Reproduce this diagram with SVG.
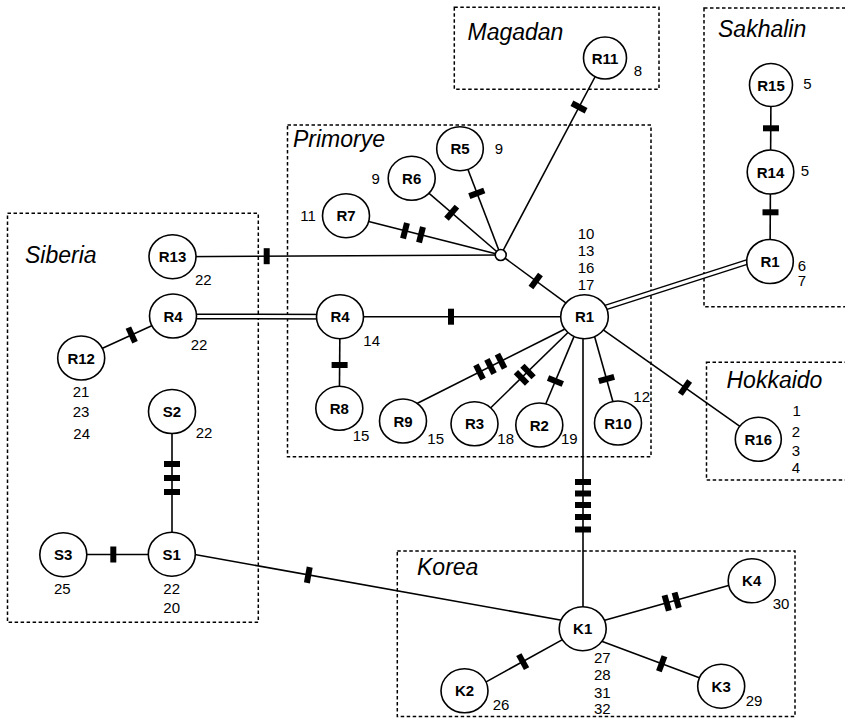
<svg xmlns="http://www.w3.org/2000/svg" xmlns:xlink="http://www.w3.org/1999/xlink" width="845" height="718" viewBox="0 0 845 718">
<style>
.box{fill:none;stroke:#000;stroke-width:1.5;stroke-dasharray:3.5 2.5}
.region{font-family:"Liberation Sans",Arial,sans-serif;font-style:italic;font-size:23px;fill:#000}
.edge{stroke:#000;stroke-width:1.6;fill:none}
.dblo{stroke:#000;stroke-width:6;fill:none}
.dbli{stroke:#fff;stroke-width:3;fill:none}
.node ellipse,.node circle{fill:#fff;stroke:#000;stroke-width:1.6}
.lbl{font-family:"Liberation Sans",Arial,sans-serif;font-weight:bold;font-size:15px;text-anchor:middle;fill:#000}
.num{font-family:"Liberation Sans",Arial,sans-serif;font-size:15px;text-anchor:middle;fill:#000}
</style>
<defs>
<rect id="bar" x="-3" y="-8" width="6" height="16" fill="#000"/>
</defs>

<g id="regions">
<rect class="box" x="454.3" y="7.3" width="204.7" height="82"/>
<text class="region" x="467.5" y="40">Magadan</text>
<rect class="box" x="704" y="8" width="150" height="298.7"/>
<text class="region" x="718" y="37">Sakhalin</text>
<rect class="box" x="287.5" y="125" width="363.5" height="331.7"/>
<text class="region" x="293" y="147">Primorye</text>
<rect class="box" x="7.5" y="213.3" width="250.8" height="409"/>
<text class="region" x="25" y="263">Siberia</text>
<rect class="box" x="706.5" y="362.3" width="150" height="117.7"/>
<text class="region" x="726.5" y="388">Hokkaido</text>
<rect class="box" x="397.3" y="551" width="397.7" height="165.5"/>
<text class="region" x="417" y="575">Korea</text>
</g>

<g id="connectors">
<path class="edge" d="M605,58 L500.7,255"/>
<use href="#bar" transform="translate(579,107) rotate(117.9)"/>
<path class="edge" d="M460,148.7 L500.7,255"/>
<use href="#bar" transform="translate(476.8,193.3) rotate(69)"/>
<path class="edge" d="M411.7,178.3 L500.7,255"/>
<use href="#bar" transform="translate(451.7,212.7) rotate(40.8)"/>
<path class="edge" d="M346,215.7 L500.7,255"/>
<use href="#bar" transform="translate(405,230.8) rotate(14.3)"/>
<use href="#bar" transform="translate(421,234.8) rotate(14.3)"/>
<path class="edge" d="M172.5,256.7 L500.7,255"/>
<use href="#bar" transform="translate(266.7,256.2)"/>
<path class="edge" d="M500.7,255 L584.5,316.7"/>
<use href="#bar" transform="translate(535.7,281) rotate(36.4)"/>
<path class="dblo" d="M173,316.5 L340,316.7"/>
<path class="dbli" d="M173,316.5 L340,316.7"/>
<path class="edge" d="M81.2,358 L173,316"/>
<use href="#bar" transform="translate(131.7,334.9) rotate(-24.6)"/>
<path class="edge" d="M340,316.7 L584.5,316.7"/>
<use href="#bar" transform="translate(451,316.7)"/>
<path class="edge" d="M340,316.7 L339.3,408.3"/>
<use href="#bar" transform="translate(339.6,365) rotate(90)"/>
<path class="edge" d="M566,328.5 L415,404.5"/>
<use href="#bar" transform="translate(479.5,372) rotate(153.3)"/>
<use href="#bar" transform="translate(490.5,366.5) rotate(153.3)"/>
<use href="#bar" transform="translate(501,361.2) rotate(153.3)"/>
<path class="edge" d="M569,331.5 L490.5,408"/>
<use href="#bar" transform="translate(521.5,377.8) rotate(135.8)"/>
<use href="#bar" transform="translate(528,371.5) rotate(135.8)"/>
<path class="edge" d="M574.8,334.6 L545.5,404.5"/>
<use href="#bar" transform="translate(555.4,381) rotate(112.8)"/>
<path class="edge" d="M593.6,333 L614.4,407"/>
<use href="#bar" transform="translate(606.5,379) rotate(74.3)"/>
<path class="edge" d="M584.5,316.7 L758.3,439.3"/>
<use href="#bar" transform="translate(685,387.6) rotate(35.2)"/>
<path class="dblo" d="M590,312.5 L755,259.5"/>
<path class="dbli" d="M590,312.5 L755,259.5"/>
<path class="edge" d="M771,85 L770.5,172"/>
<use href="#bar" transform="translate(771,128.3) rotate(90)"/>
<path class="edge" d="M770.5,172 L770,261.5"/>
<use href="#bar" transform="translate(770.5,212.3) rotate(90)"/>
<path class="edge" d="M583,316.7 L583,628.7"/>
<use href="#bar" transform="translate(583,482) rotate(90)"/>
<use href="#bar" transform="translate(583,493.5) rotate(90)"/>
<use href="#bar" transform="translate(583,505) rotate(90)"/>
<use href="#bar" transform="translate(583,517) rotate(90)"/>
<use href="#bar" transform="translate(583,529.5) rotate(90)"/>
<path class="edge" d="M172,411.5 L172,554.2"/>
<use href="#bar" transform="translate(172,464) rotate(90)"/>
<use href="#bar" transform="translate(172,478) rotate(90)"/>
<use href="#bar" transform="translate(172,492) rotate(90)"/>
<path class="edge" d="M63.3,554.5 L171.8,554.5"/>
<use href="#bar" transform="translate(113.3,554.5)"/>
<path class="edge" d="M185,552.7 L570,621.8"/>
<use href="#bar" transform="translate(308.3,575) rotate(10.1)"/>
<path class="edge" d="M602,621.1 L733,584.3"/>
<use href="#bar" transform="translate(666.7,603) rotate(-15.7)"/>
<use href="#bar" transform="translate(676.7,600.2) rotate(-15.7)"/>
<path class="edge" d="M565.2,638.1 L484.8,682.6"/>
<use href="#bar" transform="translate(522.7,661.6) rotate(151)"/>
<path class="edge" d="M599,640.3 L702,678.7"/>
<use href="#bar" transform="translate(661.7,663.7) rotate(20.4)"/>
</g>

<g id="R11" class="node"><ellipse cx="605" cy="58" rx="21.5" ry="21"/><text class="lbl" x="605" y="63.5">R11</text><text class="num" x="638" y="75.5">8</text></g>
<g id="R15" class="node"><ellipse cx="771" cy="85" rx="21.5" ry="21.5"/><text class="lbl" x="771" y="90.5">R15</text><text class="num" x="807.5" y="89">5</text></g>
<g id="R14" class="node"><ellipse cx="770.5" cy="172" rx="23.3" ry="22"/><text class="lbl" x="770.5" y="177.5">R14</text><text class="num" x="805" y="175.5">5</text></g>
<g id="R1S" class="node"><ellipse cx="770" cy="261.5" rx="23.3" ry="22"/><text class="lbl" x="770" y="267">R1</text><text class="num" x="802" y="270.5">6</text><text class="num" x="802" y="286">7</text></g>
<g id="R5" class="node"><ellipse cx="460" cy="148.7" rx="23.3" ry="22"/><text class="lbl" x="460" y="154.2">R5</text><text class="num" x="499" y="154">9</text></g>
<g id="R6" class="node"><ellipse cx="411.7" cy="178.3" rx="23.5" ry="22"/><text class="lbl" x="411.7" y="183.8">R6</text><text class="num" x="375.7" y="183.5">9</text></g>
<g id="R7" class="node"><ellipse cx="346" cy="215.7" rx="23.5" ry="22"/><text class="lbl" x="346" y="221.2">R7</text><text class="num" x="308" y="221">11</text></g>
<g id="hub" class="node"><circle cx="500.7" cy="255" r="5.5"/></g>
<g id="R13" class="node"><ellipse cx="172.5" cy="256.7" rx="23.5" ry="22"/><text class="lbl" x="172.5" y="262.2">R13</text><text class="num" x="203.3" y="285.4">22</text></g>
<g id="R4S" class="node"><ellipse cx="173" cy="316" rx="23.5" ry="22"/><text class="lbl" x="173" y="321.5">R4</text><text class="num" x="199" y="350.4">22</text></g>
<g id="R12" class="node"><ellipse cx="81.2" cy="358" rx="23.5" ry="22"/><text class="lbl" x="81.2" y="363.5">R12</text><text class="num" x="81" y="397">21</text><text class="num" x="81" y="417">23</text><text class="num" x="81.7" y="438.7">24</text></g>
<g id="S2" class="node"><ellipse cx="172" cy="411.5" rx="23.5" ry="22"/><text class="lbl" x="172" y="417">S2</text><text class="num" x="204" y="438">22</text></g>
<g id="S1" class="node"><ellipse cx="171.8" cy="554.2" rx="23.5" ry="22"/><text class="lbl" x="171.8" y="559.7">S1</text><text class="num" x="171.7" y="593.7">22</text><text class="num" x="171.7" y="612.7">20</text></g>
<g id="S3" class="node"><ellipse cx="63.3" cy="554.7" rx="23.5" ry="22"/><text class="lbl" x="63.3" y="560.2">S3</text><text class="num" x="62.3" y="594.4">25</text></g>
<g id="R4P" class="node"><ellipse cx="340" cy="316.7" rx="23.5" ry="22"/><text class="lbl" x="340" y="322.2">R4</text><text class="num" x="371.7" y="346">14</text></g>
<g id="R8" class="node"><ellipse cx="339.3" cy="408.3" rx="23.5" ry="22"/><text class="lbl" x="339.3" y="413.8">R8</text><text class="num" x="361" y="441">15</text></g>
<g id="R1" class="node"><ellipse cx="584.5" cy="316.7" rx="23.8" ry="22"/><text class="lbl" x="584.5" y="322.2">R1</text><text class="num" x="586" y="238.7">10</text><text class="num" x="586" y="256">13</text><text class="num" x="586" y="273">16</text><text class="num" x="586" y="289.7">17</text></g>
<g id="R9" class="node"><ellipse cx="403" cy="421" rx="23.5" ry="22"/><text class="lbl" x="403" y="426.5">R9</text><text class="num" x="435.7" y="443.7">15</text></g>
<g id="R3" class="node"><ellipse cx="474.5" cy="423.8" rx="23.5" ry="22"/><text class="lbl" x="474.5" y="429.3">R3</text><text class="num" x="505.7" y="443.7">18</text></g>
<g id="R2" class="node"><ellipse cx="539.3" cy="425" rx="23.5" ry="22"/><text class="lbl" x="539.3" y="430.5">R2</text><text class="num" x="569.3" y="443.7">19</text></g>
<g id="R10" class="node"><ellipse cx="618" cy="423" rx="23.5" ry="22"/><text class="lbl" x="618" y="428.5">R10</text><text class="num" x="641.7" y="402">12</text></g>
<g id="R16" class="node"><ellipse cx="758.3" cy="439.3" rx="23" ry="22"/><text class="lbl" x="758.3" y="444.8">R16</text><text class="num" x="796.7" y="416">1</text><text class="num" x="796" y="437">2</text><text class="num" x="796" y="455.5">3</text><text class="num" x="796" y="472.7">4</text></g>
<g id="K1" class="node"><ellipse cx="582.7" cy="628.7" rx="23.5" ry="22"/><text class="lbl" x="582.7" y="634.2">K1</text><text class="num" x="602.3" y="662.7">27</text><text class="num" x="602.3" y="680.4">28</text><text class="num" x="602.3" y="697.7">31</text><text class="num" x="602.3" y="713.7">32</text></g>
<g id="K2" class="node"><ellipse cx="464.5" cy="690.8" rx="23.5" ry="22"/><text class="lbl" x="464.5" y="696.3">K2</text><text class="num" x="501" y="710.4">26</text></g>
<g id="K3" class="node"><ellipse cx="721.2" cy="686.2" rx="23.5" ry="22"/><text class="lbl" x="721.2" y="691.7">K3</text><text class="num" x="754" y="706">29</text></g>
<g id="K4" class="node"><ellipse cx="751.7" cy="580.8" rx="23.5" ry="22"/><text class="lbl" x="751.7" y="586.3">K4</text><text class="num" x="781" y="608.7">30</text></g>
</svg>
